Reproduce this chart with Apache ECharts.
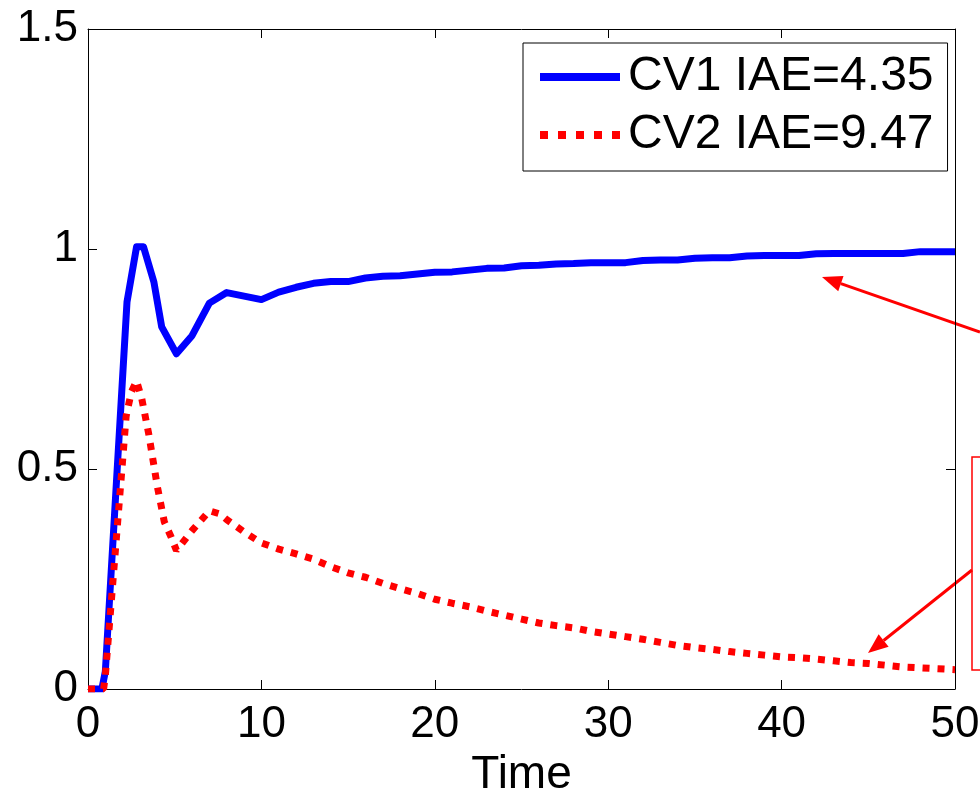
<!DOCTYPE html>
<html>
<head>
<meta charset="utf-8">
<title>CV1 / CV2 response</title>
<script src="https://cdn.jsdelivr.net/npm/echarts@6/dist/echarts.min.js"></script>
<style>
  html, body { margin: 0; padding: 0; background: #ffffff; overflow: hidden; }
  #chart { width: 980px; height: 791px; }
</style>
</head>
<body>
<div id="chart"></div>
<script>
// Step responses of the two controlled variables
const seriesNames = ['CV1 IAE=4.35', 'CV2 IAE=9.47'];

const cv1Time = [0, 0.8, 1, 2.25, 2.8, 3.2, 3.8, 4.25, 5.1, 6, 7, 8, 9, 10,
  11, 12, 13, 14, 15, 16, 17, 18, 19, 20, 21, 22, 23, 24, 25, 26, 27, 28, 29, 30,
  31, 32, 33, 34, 35, 36, 37, 38, 39, 40, 41, 42, 43, 44, 45, 46, 47, 48, 49, 50];
const cv1Values = [0, 0, 0.04, 0.88, 1.005, 1.005, 0.925, 0.823, 0.762, 0.803, 0.877, 0.901, 0.893, 0.885,
  0.902, 0.913, 0.922, 0.926, 0.926, 0.934, 0.938, 0.939, 0.943, 0.947, 0.948, 0.952, 0.956, 0.957, 0.962, 0.963, 0.966, 0.967, 0.969, 0.969,
  0.969, 0.974, 0.975, 0.975, 0.979, 0.98, 0.98, 0.984, 0.985, 0.985, 0.985, 0.989, 0.99, 0.99, 0.99, 0.99, 0.99, 0.994, 0.994, 0.994];

const cv2Time = [0, 0.9, 1, 2.2, 2.5, 2.8, 3.1, 3.5, 4, 4.4, 4.8, 5.1, 6, 7, 7.6, 8, 9, 10,
  11, 12, 13, 14, 15, 16, 17, 18, 19, 20, 21, 22, 23, 24, 25, 26, 27, 28, 29, 30,
  31, 32, 33, 34, 35, 36, 37, 38, 39, 40, 41, 42, 43, 44, 45, 46, 47, 48, 49, 50];
const cv2Values = [0, 0, 0.03, 0.62, 0.675, 0.70, 0.66, 0.58, 0.46, 0.38, 0.345, 0.315, 0.36, 0.405, 0.398, 0.385, 0.357, 0.332,
  0.318, 0.307, 0.295, 0.278, 0.264, 0.254, 0.24, 0.228, 0.217, 0.204, 0.195, 0.187, 0.177, 0.168, 0.159, 0.15, 0.144, 0.139, 0.131, 0.125,
  0.119, 0.113, 0.106, 0.099, 0.094, 0.09, 0.085, 0.081, 0.077, 0.073, 0.071, 0.068, 0.064, 0.06, 0.058, 0.054, 0.05, 0.048, 0.046, 0.044];

const xTicks = { min: 0, max: 50, step: 10 };
const yTicks = { min: 0, max: 1.5, step: 0.5 };

const FONT = 'Arial, "Liberation Sans", Helvetica, sans-serif';
const pairs = (xs, ys) => xs.map((x, i) => [x, ys[i]]);

// Legend samples: a solid bar and a row of square dots, both 80 x 8
const SOLID_ICON = 'path://M0,0L80,0L80,8L0,8Z';
const DOTTED_ICON = 'path://M0,0h8v8h-8z M18,0h8v8h-8z M36,0h8v8h-8z M54,0h8v8h-8z M72,0h8v8h-8z';

// Arrow drawn as a shaft plus a filled head ending at the tip
function arrow(x1, y1, x2, y2, color) {
  const dx = x2 - x1, dy = y2 - y1;
  const len = Math.hypot(dx, dy);
  const ux = dx / len, uy = dy / len;
  const headLen = 20, headHalf = 8;
  const bx = x2 - ux * headLen, by = y2 - uy * headLen;
  const nx = -uy, ny = ux;
  return [
    { type: 'line', silent: true,
      shape: { x1: x1, y1: y1, x2: bx, y2: by },
      style: { stroke: color, lineWidth: 3 } },
    { type: 'polygon', silent: true,
      shape: { points: [[x2, y2], [bx + nx * headHalf, by + ny * headHalf], [bx - nx * headHalf, by - ny * headHalf]] },
      style: { fill: color } }
  ];
}

const axisCommon = {
  axisLine: { show: true, onZero: false, lineStyle: { color: '#000', width: 1 } },
  axisTick: { show: true, inside: true, length: 9, lineStyle: { color: '#000', width: 1 } },
  splitLine: { show: false }
};

const chart = echarts.init(document.getElementById('chart'), null, { renderer: 'canvas' });

chart.setOption({
  backgroundColor: '#ffffff',
  animation: false,
  grid: { left: 88, top: 29, width: 867, height: 660, containLabel: false, outerBoundsMode: 'none' },
  xAxis: [
    Object.assign({
      type: 'value', position: 'bottom',
      min: xTicks.min, max: xTicks.max, interval: xTicks.step,
      axisLabel: { fontSize: 44, color: '#000', fontFamily: FONT, margin: 14 },
      name: 'Time', nameLocation: 'middle', nameGap: 55,
      nameTextStyle: { fontSize: 46, color: '#000', fontFamily: FONT }
    }, axisCommon),
    Object.assign({
      type: 'value', position: 'top',
      min: xTicks.min, max: xTicks.max, interval: xTicks.step,
      axisLabel: { show: false }
    }, axisCommon)
  ],
  yAxis: [
    Object.assign({
      type: 'value', position: 'left',
      min: yTicks.min, max: yTicks.max, interval: yTicks.step,
      axisLabel: { fontSize: 44, color: '#000', fontFamily: FONT, margin: 10 }
    }, axisCommon),
    Object.assign({
      type: 'value', position: 'right',
      min: yTicks.min, max: yTicks.max, interval: yTicks.step,
      axisLabel: { show: false }
    }, axisCommon)
  ],
  legend: {
    orient: 'vertical',
    left: 523, top: 43,
    padding: [9, 14, 11, 17],
    itemGap: 8,
    itemWidth: 80, itemHeight: 8,
    borderColor: '#000', borderWidth: 1,
    backgroundColor: '#fff',
    textStyle: { fontSize: 48, color: '#000', fontFamily: FONT, lineHeight: 50, padding: [0, 0, 0, 3] },
    data: [
      { name: seriesNames[0], icon: SOLID_ICON, itemStyle: { color: '#0000ff' } },
      { name: seriesNames[1], icon: DOTTED_ICON, itemStyle: { color: '#ff0000' } }
    ]
  },
  series: [
    {
      name: seriesNames[0], type: 'line', data: pairs(cv1Time, cv1Values),
      showSymbol: false, symbol: 'none',
      lineStyle: { color: '#0000ff', width: 7, join: 'round' },
      itemStyle: { color: '#0000ff' }, z: 2
    },
    {
      name: seriesNames[1], type: 'line', data: pairs(cv2Time, cv2Values),
      showSymbol: false, symbol: 'none',
      lineStyle: { color: '#ff0000', width: 7, type: [7, 8], cap: 'butt' },
      itemStyle: { color: '#ff0000' }, z: 3
    }
  ],
  graphic: [
    { type: 'rect', silent: true,
      shape: { x: 972, y: 457, width: 60, height: 213 },
      style: { fill: 'none', stroke: '#ff0000', lineWidth: 1.5 } }
  ].concat(arrow(980, 332, 822, 277, '#ff0000'))
   .concat(arrow(972, 570, 868, 653, '#ff0000'))
});
</script>
</body>
</html>
